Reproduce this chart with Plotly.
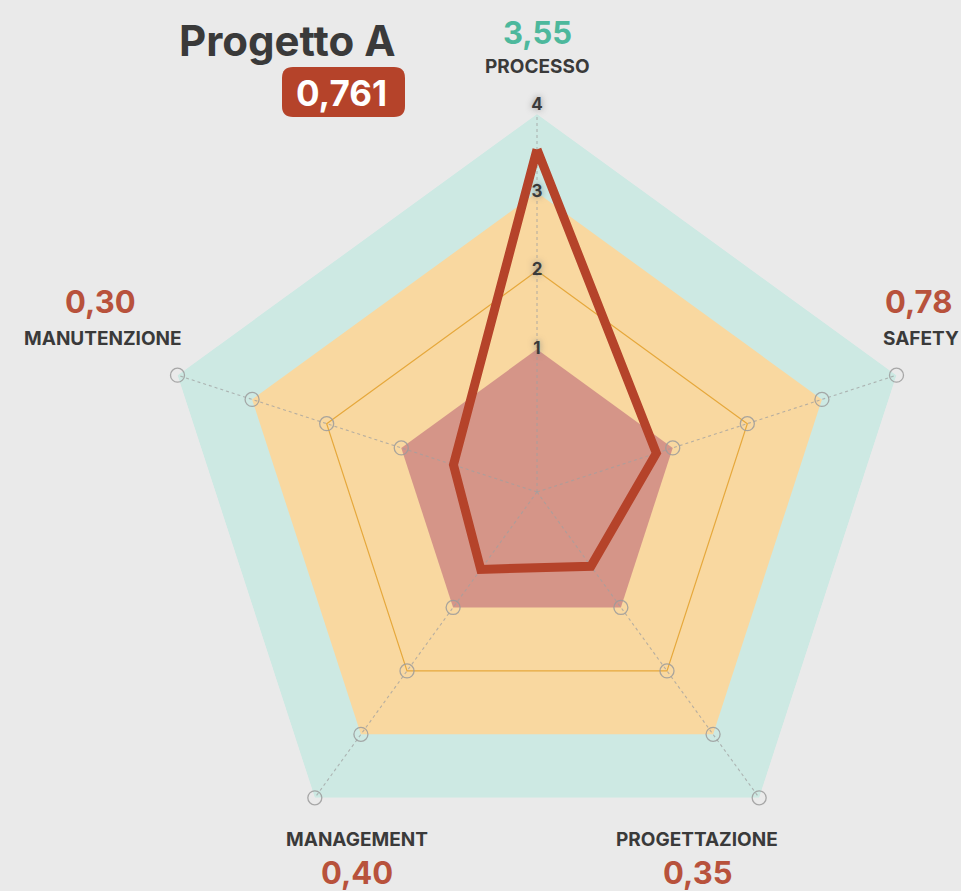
import plotly.graph_objects as go

# ---------------- data ----------------
project_name = "Progetto A"
project_score = 0.761
categories = ["PROCESSO", "SAFETY", "PROGETTAZIONE", "MANAGEMENT", "MANUTENZIONE"]
values = [3.55, 0.78, 0.35, 0.40, 0.30]
band_levels = [4, 3, 1]          # outer edges of the coloured bands
grid_level = 2                   # thin orange ring
ring_levels = [1, 2, 3, 4]       # hollow circles on each spoke
radial_tick_values = [0, 1, 2, 3, 4]
radial_tick_labels = ["0", "1", "2", "3", "4"]

# ---------------- style ----------------
W, H = 961, 891
R_MIN = -0.82                    # axis minimum (centre of the chart)
R_MAX = 4
CX, CY, RAD = 537, 492, 378      # pixel centre / radius of the polar area

BG = "#eaeaea"
BAND_COLORS = {4: "#cde9e3", 3: "#f9d8a0", 1: "#d59588"}
GRID_ORANGE = "#e6a83c"
LINE_RED = "#b5432a"
VALUE_RED = "#b8523c"
VALUE_TEAL = "#4db89c"
DARK = "#3a3a3a"
FONT = "Inter"


def fmt(v, nd=2):
    return f"{v:.{nd}f}".replace(".", ",")


def px(x, y):
    return x / W, 1 - y / H


fig = go.Figure()
closed_theta = categories + [categories[0]]

# coloured bands
for lvl in band_levels:
    fig.add_trace(go.Scatterpolar(
        r=[lvl] * (len(categories) + 1), theta=closed_theta,
        mode="lines", fill="toself", fillcolor=BAND_COLORS[lvl],
        line=dict(width=0, color=BAND_COLORS[lvl]),
        hoverinfo="skip", showlegend=False))

# thin orange ring
fig.add_trace(go.Scatterpolar(
    r=[grid_level] * (len(categories) + 1), theta=closed_theta,
    mode="lines", line=dict(width=1.2, color=GRID_ORANGE),
    hoverinfo="skip", showlegend=False))

# spokes
for c in categories:
    fig.add_trace(go.Scatterpolar(
        r=[R_MIN, R_MAX], theta=[c, c], mode="lines",
        line=dict(width=1.1, color="rgba(160,160,160,0.75)", dash="dot"),
        hoverinfo="skip", showlegend=False))

# hollow circles on spokes (not on the labelled top spoke)
ring_r, ring_t = [], []
for c in categories[1:]:
    for lvl in ring_levels:
        ring_r.append(lvl)
        ring_t.append(c)
fig.add_trace(go.Scatterpolar(
    r=ring_r, theta=ring_t, mode="markers",
    marker=dict(symbol="circle-open", size=14,
                line=dict(width=1.3, color="rgba(155,155,155,0.85)"),
                color="rgba(155,155,155,0.85)"),
    hoverinfo="skip", showlegend=False))

# data line
fig.add_trace(go.Scatterpolar(
    r=values + [values[0]], theta=closed_theta, mode="lines",
    line=dict(width=9, color=LINE_RED), showlegend=False))

# radial tick labels on the top spoke
tick_r = [R_MIN if t == 0 else t for t in radial_tick_values]
fig.add_trace(go.Scatterpolar(
    r=tick_r, theta=[categories[0]] * len(tick_r), mode="text",
    text=radial_tick_labels,
    textposition=["middle center"] * 4 + ["top center"],
    textfont=dict(family=FONT, size=17, color=DARK, weight="bold",
                  shadow="0px 0px 6px rgba(130,130,130,0.9)"),
    hoverinfo="skip", showlegend=False))

fig.update_layout(
    width=W, height=H,
    margin=dict(l=0, r=0, t=0, b=0),
    paper_bgcolor=BG, plot_bgcolor=BG,
    font=dict(family=FONT),
    polar=dict(
        domain=dict(x=[(CX - RAD) / W, (CX + RAD) / W],
                    y=[(H - CY - RAD) / H, (H - CY + RAD) / H]),
        bgcolor="rgba(0,0,0,0)",
        gridshape="linear",
        radialaxis=dict(visible=False, range=[R_MIN, R_MAX]),
        angularaxis=dict(rotation=90, direction="clockwise",
                         showticklabels=False, ticks="", showline=False,
                         showgrid=False),
    ),
)

# ---------------- annotations ----------------
ann = []


def add_text(xp, yp, text, size, color):
    x, y = px(xp, yp)
    ann.append(dict(x=x, y=y, xref="paper", yref="paper", text=text,
                    xanchor="center", yanchor="middle", showarrow=False,
                    font=dict(family=FONT, size=size, color=color)))


# title
add_text(287, 40, f"<b>{project_name}</b>", 42, DARK)
# score badge
bx0, by0 = px(282, 67)
bx1, by1 = px(405, 117)
rx, ry = 11 / W, 11 / H
path = (f"M {bx0+rx},{by0} L {bx1-rx},{by0} Q {bx1},{by0} {bx1},{by0-ry} "
        f"L {bx1},{by1+ry} Q {bx1},{by1} {bx1-rx},{by1} "
        f"L {bx0+rx},{by1} Q {bx0},{by1} {bx0},{by1+ry} "
        f"L {bx0},{by0-ry} Q {bx0},{by0} {bx0+rx},{by0} Z")
shapes = [dict(type="path", xref="paper", yref="paper", path=path,
               fillcolor=LINE_RED, line=dict(width=0), layer="above")]
add_text(341, 93, f"<b>{fmt(project_score, 3)}</b>", 35, "white")

# category labels: value pixel pos, name pixel pos
label_pos = {
    "PROCESSO": ((537, 33), (537, 66)),
    "SAFETY": ((918, 301), (921, 338)),
    "PROGETTAZIONE": ((697, 872), (697, 839)),
    "MANAGEMENT": ((357, 872), (357, 839)),
    "MANUTENZIONE": ((100, 301), (103, 338)),
}
for i, c in enumerate(categories):
    (vx, vy), (nx, ny) = label_pos[c]
    col = VALUE_TEAL if i == 0 else VALUE_RED
    add_text(vx, vy, f"<b>{fmt(values[i])}</b>", 31, col)
    add_text(nx, ny, f"<b>{c}</b>", 19, DARK)

fig.update_layout(annotations=ann, shapes=shapes)
fig.write_html("out.html",
               config={"displayModeBar": False},
               post_script="document.body.style.margin='0';"
                           "document.body.style.overflow='hidden';")
